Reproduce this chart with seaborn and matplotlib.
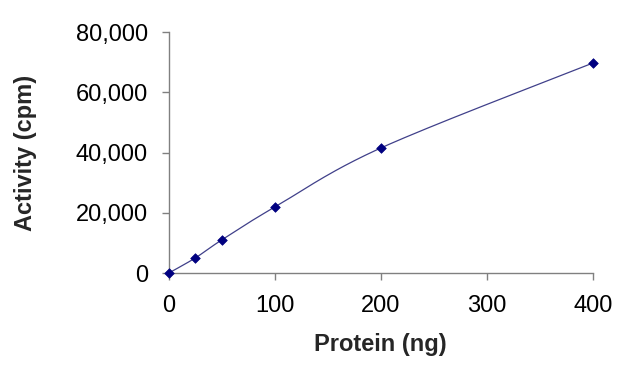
import numpy as np
import matplotlib
matplotlib.use("Agg")
import matplotlib.pyplot as plt
import seaborn as sns
from matplotlib.ticker import FuncFormatter

protein_ng = [0, 25, 50, 100, 200, 400]
activity_cpm = [0, 5000, 11000, 21900, 41500, 69700]
x_ticks = [0, 100, 200, 300, 400]
y_ticks = [0, 20000, 40000, 60000, 80000]


def smooth_curve(x, y, n=40):
    # Catmull-Rom style smoothing, like a spreadsheet "smoothed line"
    x = np.asarray(x, float)
    y = np.asarray(y, float)
    xs, ys = [], []
    for i in range(len(x) - 1):
        p0 = (x[i - 1], y[i - 1]) if i > 0 else (x[i], y[i])
        p1 = (x[i], y[i])
        p2 = (x[i + 1], y[i + 1])
        p3 = (x[i + 2], y[i + 2]) if i + 2 < len(x) else (x[i + 1], y[i + 1])
        c1 = (p1[0] + (p2[0] - p0[0]) / 6, p1[1] + (p2[1] - p0[1]) / 6)
        c2 = (p2[0] - (p3[0] - p1[0]) / 6, p2[1] - (p3[1] - p1[1]) / 6)
        t = np.linspace(0, 1, n)
        bx = (1 - t) ** 3 * p1[0] + 3 * (1 - t) ** 2 * t * c1[0] + 3 * (1 - t) * t ** 2 * c2[0] + t ** 3 * p2[0]
        by = (1 - t) ** 3 * p1[1] + 3 * (1 - t) ** 2 * t * c1[1] + 3 * (1 - t) * t ** 2 * c2[1] + t ** 3 * p2[1]
        xs.extend(bx)
        ys.extend(by)
    return np.array(xs), np.array(ys)


sns.set_style("white")
plt.rcParams['font.family'] = ['Liberation Sans', 'DejaVu Sans']

fig = plt.figure(figsize=(6.32, 3.68), dpi=100)
ax = fig.add_axes([0.267, 0.258, 0.671, 0.655])

sx, sy = smooth_curve(protein_ng, activity_cpm)
ax.plot(sx, sy, color='#40408a', linewidth=0.9, clip_on=False)
sns.scatterplot(x=protein_ng, y=activity_cpm, marker='D', s=24, color='#000080',
                edgecolor='#000080', linewidth=0.5, ax=ax, clip_on=False, zorder=3)

ax.set_xlim(0, 400)
ax.set_ylim(0, 80000)
ax.set_xticks(x_ticks)
ax.set_yticks(y_ticks)
ax.yaxis.set_major_formatter(FuncFormatter(lambda v, p: f"{int(v):,}"))

for s in ['top', 'right']:
    ax.spines[s].set_visible(False)
for s in ['left', 'bottom']:
    ax.spines[s].set_color('#808080')
    ax.spines[s].set_linewidth(1.0)

ax.tick_params(axis='both', direction='out', length=5, width=1.0, color='#808080',
               labelsize=17, labelcolor='black', bottom=True, left=True)
ax.tick_params(axis='x', pad=11)
ax.tick_params(axis='y', pad=10)

ax.set_xlabel('Protein (ng)', fontsize=17, fontweight='bold', labelpad=11)
ax.set_ylabel('Activity (cpm)', fontsize=17, fontweight='bold', labelpad=28)

fig.savefig('out.png', dpi=100)
